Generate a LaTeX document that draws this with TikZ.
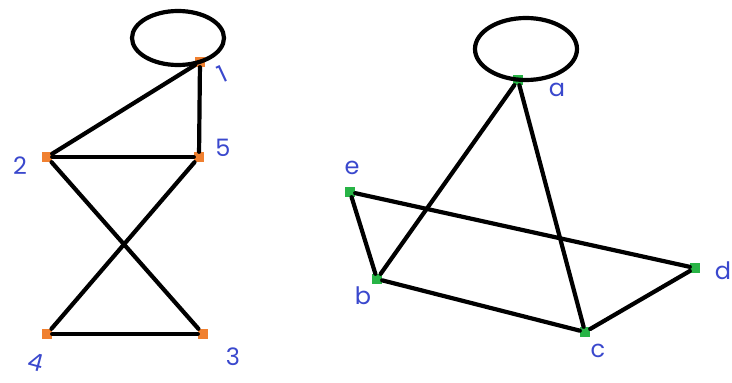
\documentclass[tikz,border=0pt]{standalone}
\usepackage{fontspec}
\setmainfont{Poppins}
\usetikzlibrary{calc}
\definecolor{vorange}{RGB}{240,128,48}
\definecolor{vgreen}{RGB}{40,180,70}
\definecolor{lblue}{RGB}{58,72,205}

\begin{document}
\begin{tikzpicture}[
  x=1pt, y=-1pt,
  edge/.style={line width=4.2pt, draw=black, line cap=round},
  vertex/.style={rectangle, inner sep=0pt, minimum size=10pt, fill=#1},
  lbl/.style={text=lblue, font=\fontsize{24}{24}\selectfont, inner sep=0pt}
]
\useasboundingbox (0,0) rectangle (732,383);

% Left graph
\node[vertex=vorange] (n1) at (200,62) {};
\node[vertex=vorange] (n5) at (199,157) {};
\node[vertex=vorange] (n2) at (47,157) {};
\node[vertex=vorange] (n4) at (47,334) {};
\node[vertex=vorange] (n3) at (203,334) {};

\draw[edge] ($(n1)+(-22,-24)$) ellipse [x radius=46pt, y radius=27pt];
\draw[edge] (n1) -- (n5);
\draw[edge] (n1) -- (n2);
\draw[edge] (n2) -- (n5);
\draw[edge] (n2) -- (n3);
\draw[edge] (n5) -- (n4);
\draw[edge] (n4) -- (n3);

\node[lbl, rotate=25] (l1) at (222,74) {1};
\node[lbl] (l5) at (223,148) {5};
\node[lbl] (l2) at (20,166) {2};
\node[lbl, rotate=-15] (l4) at (36,362) {4};
\node[lbl] (l3) at (233,357) {3};

% Right graph
\node[vertex=vgreen] (na) at (518,80) {};
\node[vertex=vgreen] (ne) at (350,192) {};
\node[vertex=vgreen] (nb) at (377,279) {};
\node[vertex=vgreen] (nc) at (585,332) {};
\node[vertex=vgreen] (nd) at (695,268) {};

\draw[edge] ($(na)+(8,-31)$) ellipse [x radius=51pt, y radius=31pt];
\draw[edge] (na) -- (nb);
\draw[edge] (na) -- (nc);
\draw[edge] (ne) -- (nb);
\draw[edge] (ne) -- (nd);
\draw[edge] (nb) -- (nc);
\draw[edge] (nc) -- (nd);

\node[lbl] (la) at (557,90) {a};
\node[lbl] (le) at (352,168) {e};
\node[lbl] (lb) at (363,296) {b};
\node[lbl] (lc) at (598,351) {c};
\node[lbl] (ld) at (723,271) {d};

\end{tikzpicture}
\end{document}
